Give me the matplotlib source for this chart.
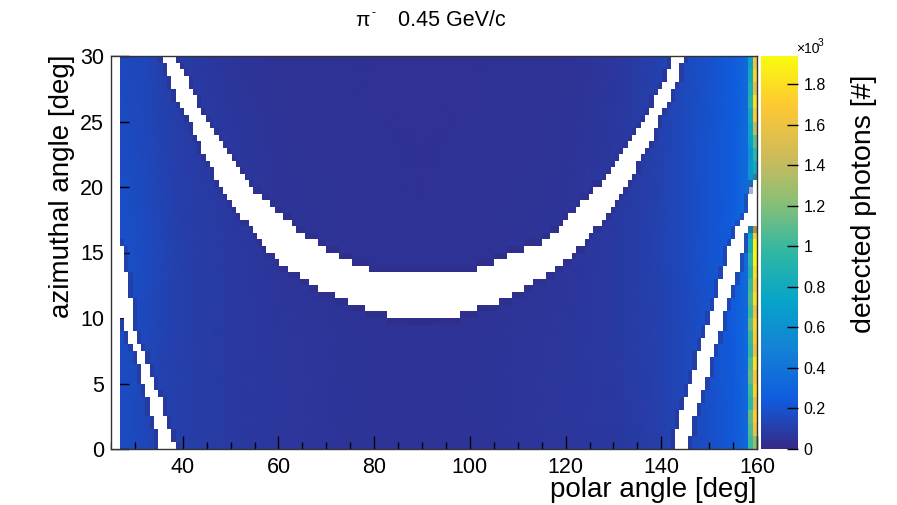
import numpy as np
import matplotlib
matplotlib.use("Agg")
import matplotlib.pyplot as plt
from matplotlib.colors import LinearSegmentedColormap, Normalize, ListedColormap
from matplotlib.ticker import MultipleLocator, FixedLocator
from matplotlib.path import Path
import matplotlib.cm as cm

plt.rcParams['font.family'] = ['Liberation Sans', 'DejaVu Sans']

# ---------------- data ----------------
# histogram binning
polar_range = (25, 160)
polar_nbins = 150
az_range = (0, 30)
az_nbins = 60

# smooth background level of detected photons (counts)
polar_knots = [25, 28, 32, 36, 40, 50, 60, 70, 80, 90, 100, 110, 120, 130, 138, 144, 150, 155, 158.2]
az_knots = [0, 7.5, 15, 22.5, 30]
bg_az0 = [150, 160, 140, 115, 100, 80, 65, 55, 50, 48, 50, 55, 62, 75, 95, 130, 180, 230, 330]
bg_az7 = [160, 170, 150, 120, 100, 80, 65, 55, 50, 48, 50, 55, 62, 78, 100, 140, 190, 240, 340]
bg_az15 = [180, 185, 160, 130, 105, 80, 60, 50, 45, 42, 45, 50, 60, 80, 110, 150, 200, 250, 350]
bg_az22 = [165, 170, 150, 120, 95, 70, 50, 40, 38, 36, 38, 42, 50, 70, 105, 150, 200, 250, 350]
bg_az30 = [150, 155, 140, 110, 85, 60, 45, 38, 35, 35, 35, 38, 45, 62, 100, 145, 195, 245, 340]

# last two polar bins (158.2-159.1 and 159.1-160), one value per degree of azimuth
strip_polar_edges = [158.2, 159.1, 160.0]
strip_inner = [1000, 1050, 1100, 950, 1000, 1100, 1050, 950, 1000, 1100, 1000, 1050, 1000, 900, 950,
               850, 750, 0, 0, 0, 600, 650, 600, 700, 750, 800, 900, 850, 800, 750]
strip_outer = [1250, 1600, 1700, 1550, 1750, 1650, 1800, 1600, 1700, 1750, 1600, 1800, 1700, 1800, 1900,
               1900, 1700, 0, 0, 0, 900, 800, 950, 1100, 1400, 1700, 1800, 1550, 1750, 1600]

# empty (white) regions
empty_left_edge = 26.5
ring_outer_polar = [35.9, 38.0, 41.5, 44.6, 48.4, 53.4, 56.1, 58.9, 62.0, 64.7, 66.6, 69.2, 72.4, 75.6, 79.5,
                    83.3, 97.0, 100.2, 105.1, 108.2, 111.0, 113.2, 115.3, 117.4, 119.5, 122.3, 125.3, 128.2,
                    132.8, 137.0, 139.7, 143.2, 144.75]
ring_outer_az = [30.0, 27.4, 24.9, 22.3, 19.8, 17.25, 16.0, 14.7, 13.7, 13.15, 12.65, 12.14, 11.63, 11.12, 10.6,
                 10.1, 10.1, 10.6, 11.12, 11.63, 12.14, 12.65, 13.15, 13.66, 14.3, 15.2, 16.4, 17.7,
                 20.3, 22.8, 25.4, 27.9, 30.0]
ring_inner_polar = [38.6, 41.8, 45.3, 50.1, 54.9, 62.4, 64.8, 67.5, 70.5, 73.4, 77.5, 80.0, 101.0, 103.0, 107.0,
                    111.0, 114.5, 117.0, 120.7, 127.6, 132.6, 136.7, 140.5, 142.3]
ring_inner_az = [30.0, 27.4, 24.9, 22.3, 19.8, 17.25, 16.4, 15.8, 15.2, 14.6, 14.0, 13.66, 13.66, 14.0, 14.6,
                 15.2, 15.7, 16.2, 17.7, 20.3, 22.8, 25.4, 27.9, 30.0]
low_left_polar = [35.0, 34.7, 33.6, 32.9, 31.9, 30.9, 29.8, 28.4, 27.5, 27.3, 26.5, 26.5, 27.3, 28.2, 28.9,
                  29.4, 30.1, 31.6, 32.8, 34.1, 35.4, 36.3, 37.6, 38.6]
low_left_az = [0.0, 1.2, 2.5, 3.7, 5.0, 6.3, 7.6, 8.8, 9.9, 10.2, 10.2, 17.0, 15.5, 13.5, 11.8,
               10.1, 8.8, 7.6, 6.3, 5.0, 3.7, 2.5, 1.2, 0.0]
low_right_polar = [142.5, 143.7, 145.9, 148.1, 150.3, 152.1, 154.0, 156.0, 157.6, 158.6, 159.4, 160.0,
                   160.0, 157.9, 157.7, 157.1, 155.2, 153.1, 151.0, 149.2, 147.0, 145.3]
low_right_az = [0.0, 2.47, 5.0, 7.56, 10.1, 12.65, 15.2, 16.9, 17.8, 19.2, 20.2, 20.5,
                17.1, 17.0, 16.2, 15.2, 12.65, 10.1, 7.56, 5.0, 2.47, 0.0]

z_max = 1940
cbar_ticks = [0, 200, 400, 600, 800, 1000, 1200, 1400, 1600, 1800]
cbar_ticklabels = ['0', '0.2', '0.4', '0.6', '0.8', '1', '1.2', '1.4', '1.6', '1.8']

# ---------------- ROOT kBird palette ----------------
stops = [0.0, 0.125, 0.25, 0.375, 0.5, 0.625, 0.75, 0.875, 1.0]
red = [0.2082, 0.0592, 0.0780, 0.0232, 0.1802, 0.5301, 0.8186, 0.9956, 0.9764]
green = [0.1664, 0.3599, 0.5041, 0.6419, 0.7178, 0.7492, 0.7328, 0.7862, 0.9832]
blue = [0.5293, 0.8684, 0.8385, 0.7914, 0.6425, 0.4662, 0.3499, 0.1968, 0.0539]
bird = LinearSegmentedColormap.from_list('bird', list(zip(stops, zip(red, green, blue))), N=256)
norm = Normalize(0, z_max)

# ---------------- figure ----------------
W, H = 897, 505
fig = plt.figure(figsize=(W / 100, H / 100), dpi=100)
ax = fig.add_axes([111 / W, 1 - 449 / H, (757 - 111) / W, (449 - 56) / H])
cax = fig.add_axes([761 / W, 1 - 449 / H, (798 - 761) / W, (449 - 56) / H])

bg = np.array([bg_az0, bg_az7, bg_az15, bg_az22, bg_az30], dtype=float)
PX, AZ = np.meshgrid(polar_knots, az_knots)
ax.pcolormesh(PX, AZ, bg, shading='gouraud', cmap=bird, norm=norm, zorder=1)

az_edges_1deg = np.arange(0, 31, 1)
strip = np.ma.masked_equal(np.column_stack([strip_inner, strip_outer]).astype(float), 0)
ax.pcolormesh(strip_polar_edges, az_edges_1deg, strip, shading='flat', cmap=bird, norm=norm, zorder=1.5)

# empty bins: bin centres inside the read-off empty regions
x_edges = np.linspace(*polar_range, polar_nbins + 1)
y_edges = np.linspace(*az_range, az_nbins + 1)
xc = 0.5 * (x_edges[1:] + x_edges[:-1])
yc = 0.5 * (y_edges[1:] + y_edges[:-1])
XC, YC = np.meshgrid(xc, yc)
pts = np.column_stack([XC.ravel(), YC.ravel()])
ring_x = list(ring_outer_polar) + list(ring_inner_polar[::-1])
ring_y = list(ring_outer_az) + list(ring_inner_az[::-1])
empty = np.zeros(XC.shape, dtype=bool)
for xs, ys in [(ring_x, ring_y), (low_left_polar, low_left_az), (low_right_polar, low_right_az)]:
    empty |= Path(np.column_stack([xs, ys])).contains_points(pts).reshape(XC.shape)
left_col = XC < empty_left_edge
pad = np.pad(empty, 1)
near = pad[:-2, 1:-1] | pad[2:, 1:-1] | pad[1:-1, :-2] | pad[1:-1, 2:]
halo = near & ~empty & ~left_col
state = np.zeros(XC.shape)
state[halo] = 2
state[empty | left_col] = 1
state_cmap = ListedColormap([(0, 0, 0, 0), (1, 1, 1, 1), (0.19, 0.17, 0.50, 0.38)])
ax.pcolormesh(x_edges, y_edges, state, cmap=state_cmap, vmin=-0.5, vmax=2.5, shading='flat',
              zorder=3, antialiased=False, linewidth=0)

ax.set_xlim(*polar_range)
ax.set_ylim(*az_range)
ax.xaxis.set_major_locator(FixedLocator([40, 60, 80, 100, 120, 140, 160]))
ax.xaxis.set_minor_locator(MultipleLocator(5))
ax.yaxis.set_major_locator(MultipleLocator(5))
ax.yaxis.set_minor_locator(MultipleLocator(1))
ax.tick_params(axis='x', which='major', direction='in', length=9.5, width=1, labelsize=15.5, pad=6, top=False)
ax.tick_params(axis='x', which='minor', direction='in', length=4.7, width=1, top=False)
ax.tick_params(axis='y', which='major', direction='in', length=13, width=1, labelsize=15.5, pad=5, right=False)
ax.tick_params(axis='y', which='minor', direction='in', length=5.8, width=1, right=False)
for sp in ax.spines.values():
    sp.set_linewidth(1)
    sp.set_color('#333333')
    sp.set_zorder(5)
for t in ax.get_xticklines() + ax.get_yticklines():
    t.set_zorder(6)

sm = cm.ScalarMappable(norm=norm, cmap=bird)
cb = fig.colorbar(sm, cax=cax)
cb.outline.set_visible(False)
cb.set_ticks(cbar_ticks)
cb.set_ticklabels(cbar_ticklabels)
cax.tick_params(direction='in', length=8, width=1, labelsize=11.5, pad=4, color='black')

fig.text(757 / W, 1 - 490 / H, 'polar angle [deg]', fontsize=20, ha='right', va='center')
fig.text(62 / W, 1 - 55 / H, 'azimuthal angle [deg]', fontsize=20, rotation=90, ha='center', va='top')
fig.text(864 / W, 1 - 75 / H, 'detected photons [#]', fontsize=20.5, rotation=90, ha='center', va='top')
fig.text(362 / W, 1 - 21 / H, 'π', fontsize=15, ha='center', va='center')
fig.text(373 / W, 1 - 13 / H, '-', fontsize=9, ha='center', va='center')
fig.text(398 / W, 1 - 20 / H, '0.45 GeV/c', fontsize=15.5, ha='left', va='center')
fig.text(796 / W, 1 - 49 / H, '×10', fontsize=10, ha='left', va='center')
fig.text(818 / W, 1 - 43 / H, '3', fontsize=7.5, ha='left', va='center')

fig.savefig('out.png', dpi=100)
